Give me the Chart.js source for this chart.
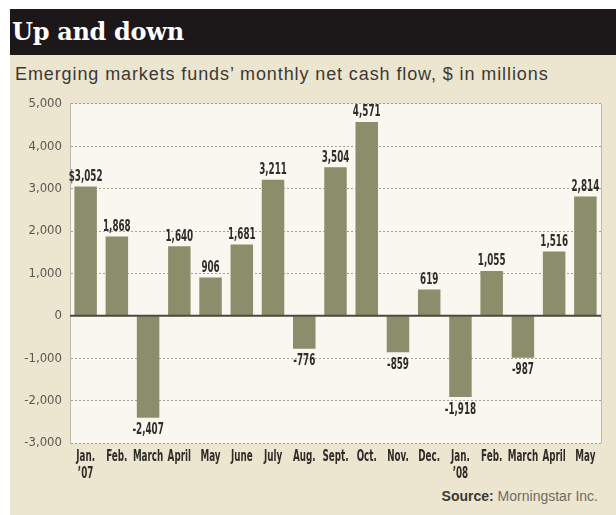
<!DOCTYPE html>
<html>
<head>
<meta charset="utf-8">
<script src="https://cdn.jsdelivr.net/npm/chart.js@4/dist/chart.umd.min.js"></script>
<style>
  body { margin: 0; background: #ffffff; width: 616px; height: 515px; position: relative; overflow: hidden; }
  #titlebar { position: absolute; left: 10px; top: 9px; width: 606px; height: 46px; background: #1c1819; }
  #titlebar span { position: absolute; left: 2px; top: 8px; color: #ffffff; font: bold 24px "DejaVu Serif", serif; letter-spacing: -0.3px; }
  #panel { position: absolute; left: 10px; top: 55px; width: 606px; height: 460px; background: #ece5cf; }
  #subtitle { position: absolute; left: 15px; top: 64px; color: #3b3a34; font: 18px "Liberation Sans", Arial, sans-serif; letter-spacing: 0.9px; }
  #source { position: absolute; right: 18px; top: 488px; color: #6e6c63; font: 14px "Liberation Sans", Arial, sans-serif; }
  #source b { color: #3b3a34; }
  #chart { position: absolute; left: 10px; top: 88px; }
</style>
</head>
<body>
<div id="panel"></div>
<div id="titlebar"><span>Up and down</span></div>
<div id="subtitle">Emerging markets funds’ monthly net cash flow, $ in millions</div>
<canvas id="chart" width="606" height="400"></canvas>
<div id="source"><b>Source:</b> Morningstar Inc.</div>
<script>
// Months, Jan. 2007 to May 2008
const months = [["Jan.", "’07"], "Feb.", "March", "April", "May", "June", "July", "Aug.",
                "Sept.", "Oct.", "Nov.", "Dec.", ["Jan.", "’08"], "Feb.", "March", "April", "May"];
// Net cash flow, $ millions
const netFlow = [3052, 1868, -2407, 1640, 906, 1681, 3211, -776,
                 3504, 4571, -859, 619, -1918, 1055, -987, 1516, 2814];
// Y axis range
const yMin = -3000;
const yMax = 5000;
const yStep = 1000;

const narrow = "'Liberation Sans Narrow', 'DejaVu Sans Condensed', sans-serif";
const squeeze = 0.65; // horizontal squash for the condensed labels

function fmt(v) {
    return v.toLocaleString("en-US");
}

function narrowText(ctx, txt, x, y) {
    ctx.save();
    ctx.translate(x, y);
    ctx.scale(squeeze, 1);
    ctx.fillText(txt, 0, 0);
    ctx.restore();
}

// plot background + right border
const plotBack = {
    id: "plotBack",
    beforeDraw(chart) {
        const a = chart.chartArea;
        const ctx = chart.ctx;
        ctx.save();
        ctx.fillStyle = "#f9f7f0";
        ctx.fillRect(a.left, a.top, a.right - a.left, a.bottom - a.top);
        ctx.restore();
    },
    afterDraw(chart) {
        const a = chart.chartArea;
        const ctx = chart.ctx;
        ctx.save();
        ctx.strokeStyle = "#bdbab0";
        ctx.lineWidth = 1;
        ctx.beginPath();
        ctx.moveTo(a.right + 0.5, a.top);
        ctx.lineTo(a.right + 0.5, a.bottom);
        ctx.stroke();
        ctx.restore();
    }
};

// zero line over the bars, value labels, month labels
const barLabels = {
    id: "barLabels",
    afterDatasetsDraw(chart) {
        const ctx = chart.ctx;
        const a = chart.chartArea;
        const y0 = chart.scales.y.getPixelForValue(0);
        ctx.save();
        ctx.strokeStyle = "#4a4a3c";
        ctx.lineWidth = 2;
        ctx.beginPath();
        ctx.moveTo(a.left, y0);
        ctx.lineTo(a.right, y0);
        ctx.stroke();

        ctx.fillStyle = "#2e2d28";
        ctx.font = "bold 15px " + narrow;
        ctx.textAlign = "center";
        const bars = chart.getDatasetMeta(0).data;
        bars.forEach((bar, i) => {
            const v = netFlow[i];
            const txt = (i === 0 ? "$" : "") + fmt(v);
            if (v >= 0) {
                ctx.textBaseline = "bottom";
                narrowText(ctx, txt, bar.x, bar.y - 2);
            } else {
                ctx.textBaseline = "top";
                narrowText(ctx, txt, bar.x, bar.y + 5);
            }
        });

        // month labels along the x scale
        const xs = chart.scales.x;
        ctx.textBaseline = "top";
        months.forEach((m, i) => {
            const x = xs.getPixelForTick(i);
            const lines = Array.isArray(m) ? m : [m];
            lines.forEach((line, k) => {
                narrowText(ctx, line, x, a.bottom + 7 + k * 17);
            });
        });
        ctx.restore();
    }
};

new Chart(document.getElementById("chart"), {
    type: "bar",
    data: {
        labels: months,
        datasets: [{
            data: netFlow,
            backgroundColor: "#8b8e6b",
            barPercentage: 0.72,
            categoryPercentage: 1.0
        }]
    },
    options: {
        responsive: false,
        animation: false,
        layout: { padding: { top: 12, right: 15, left: 0, bottom: 0 } },
        plugins: {
            legend: { display: false },
            tooltip: { enabled: false }
        },
        scales: {
            x: {
                grid: { display: false, drawTicks: false },
                border: { display: false },
                ticks: { display: false, autoSkip: false, maxRotation: 0 },
                afterFit(scale) { scale.height = 45; }
            },
            y: {
                min: yMin,
                max: yMax,
                grid: {
                    color: (c) => (c.tick && c.tick.value === 0) ? "rgba(0,0,0,0)" : "#a3a196",
                    lineWidth: 1,
                    drawTicks: false
                },
                border: {
                    display: true,
                    color: "#bdbab0",
                    dash: (c) => (c.tick && c.tick.value !== undefined) ? [2, 2] : []
                },
                ticks: {
                    stepSize: yStep,
                    color: "#5a5950",
                    font: { family: narrow, size: 13 },
                    padding: 8,
                    callback: (v) => fmt(v)
                },
                afterFit(scale) { scale.width = 60; }
            }
        }
    },
    plugins: [plotBack, barLabels]
});
</script>
</body>
</html>
